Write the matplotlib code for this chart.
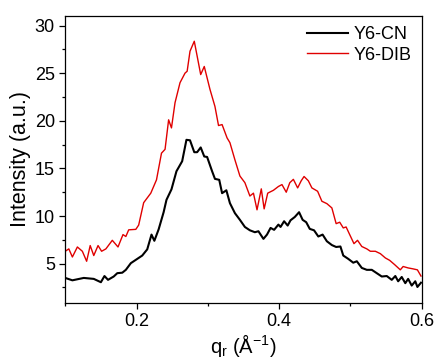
import matplotlib
matplotlib.use("Agg")
import matplotlib.pyplot as plt
from matplotlib.ticker import MultipleLocator

plt.rcParams["font.family"] = ["Liberation Sans", "DejaVu Sans"]
plt.rcParams["mathtext.fontset"] = "custom"
plt.rcParams["mathtext.rm"] = "Liberation Sans"

# in-plane line cuts, q_r in 1/Angstrom
q_cn = [0.100, 0.110, 0.126, 0.140, 0.150, 0.155, 0.160, 0.168, 0.173, 0.180,
        0.185, 0.192, 0.199, 0.208, 0.215, 0.221, 0.225, 0.231, 0.238, 0.242,
        0.249, 0.256, 0.264, 0.270, 0.275, 0.281, 0.285, 0.290, 0.295, 0.299,
        0.306, 0.310, 0.316, 0.320, 0.326, 0.331, 0.338, 0.345, 0.352, 0.359,
        0.366, 0.371, 0.378, 0.383, 0.388, 0.393, 0.399, 0.402, 0.407, 0.412,
        0.416, 0.422, 0.428, 0.433, 0.438, 0.443, 0.449, 0.455, 0.461, 0.467,
        0.474, 0.480, 0.486, 0.490, 0.497, 0.504, 0.509, 0.516, 0.523, 0.530,
        0.537, 0.544, 0.551, 0.558, 0.563, 0.567, 0.572, 0.577, 0.581, 0.586,
        0.591, 0.594, 0.599]
i_cn = [3.50, 3.25, 3.50, 3.40, 3.05, 3.70, 3.30, 3.65, 4.00, 4.05,
        4.35, 5.05, 5.40, 5.85, 6.50, 8.05, 7.40, 8.60, 10.40, 11.70,
        12.80, 14.70, 15.75, 18.00, 17.95, 16.70, 16.70, 17.20, 16.25, 16.20,
        14.70, 13.90, 13.80, 12.40, 12.70, 11.35, 10.30, 9.60, 8.85, 8.50,
        8.30, 8.40, 7.60, 8.05, 8.75, 8.55, 9.10, 8.85, 9.45, 9.00,
        9.55, 9.90, 10.40, 9.60, 9.35, 8.65, 8.50, 7.85, 8.05, 7.35,
        6.95, 6.75, 6.80, 5.85, 5.50, 5.10, 5.25, 4.55, 4.35, 4.35,
        4.00, 3.65, 3.70, 3.30, 3.70, 3.15, 3.60, 2.95, 3.40, 2.70,
        3.15, 2.55, 3.00]

q_dib = [0.100, 0.105, 0.110, 0.117, 0.124, 0.130, 0.135, 0.140, 0.146, 0.151,
         0.157, 0.166, 0.174, 0.181, 0.185, 0.189, 0.199, 0.203, 0.210, 0.220,
         0.228, 0.235, 0.240, 0.245, 0.249, 0.254, 0.261, 0.268, 0.271, 0.275,
         0.281, 0.285, 0.290, 0.295, 0.303, 0.310, 0.315, 0.320, 0.327, 0.331,
         0.338, 0.345, 0.352, 0.359, 0.364, 0.369, 0.375, 0.379, 0.384, 0.392,
         0.399, 0.404, 0.410, 0.415, 0.420, 0.426, 0.431, 0.435, 0.441, 0.446,
         0.454, 0.460, 0.467, 0.474, 0.480, 0.485, 0.490, 0.494, 0.499, 0.505,
         0.510, 0.516, 0.523, 0.528, 0.535, 0.542, 0.549, 0.555, 0.562, 0.570,
         0.574, 0.581, 0.588, 0.594, 0.599]
i_dib = [6.30, 6.55, 5.70, 6.75, 6.30, 5.25, 6.90, 5.85, 6.90, 6.30,
         6.55, 7.45, 6.75, 8.05, 7.85, 8.55, 8.60, 9.05, 11.40, 12.40,
         13.80, 16.60, 17.00, 20.10, 19.25, 21.90, 24.00, 25.00, 25.20, 27.30,
         28.35, 26.80, 24.85, 25.70, 23.30, 21.50, 19.50, 19.60, 18.20, 17.70,
         15.90, 14.20, 13.50, 12.10, 12.40, 10.65, 12.85, 10.75, 12.40, 12.70,
         13.10, 13.30, 12.50, 13.50, 13.85, 12.95, 13.70, 14.15, 13.70, 12.95,
         12.60, 11.55, 11.30, 10.85, 9.20, 9.35, 8.75, 8.85, 8.05, 7.10,
         7.45, 6.80, 6.55, 6.30, 6.30, 6.05, 5.60, 5.35, 4.90, 4.35,
         4.70, 4.55, 4.45, 4.35, 3.70]

fig = plt.figure(figsize=(4.35, 3.61), dpi=100)
ax = fig.add_axes([0.150, 0.1615, 0.8194, 0.7942])

ax.plot(q_cn, i_cn, color="black", lw=1.5, label="Y6-CN")
ax.plot(q_dib, i_dib, color="#e00000", lw=1.0, label="Y6-DIB")

ax.set_xlim(0.1, 0.6)
ax.set_ylim(0.9, 31)
ax.xaxis.set_major_locator(MultipleLocator(0.2))
ax.xaxis.set_minor_locator(MultipleLocator(0.1))
ax.yaxis.set_major_locator(MultipleLocator(5))
ax.yaxis.set_minor_locator(MultipleLocator(2.5))
ax.set_yticks([5, 10, 15, 20, 25, 30])

ax.tick_params(which="both", direction="out", top=False, right=False,
               labelsize=13, width=0.9)
ax.tick_params(which="major", length=4)
ax.tick_params(which="minor", length=2.5)
for s in ax.spines.values():
    s.set_linewidth(0.9)

ax.set_xlabel(r"q$_\mathregular{r}$ (Å$^\mathregular{-1}$)", fontsize=14.5, labelpad=1)
ax.set_ylabel("Intensity (a.u.)", fontsize=15.5, labelpad=3)

ax.legend(loc="upper right", frameon=False, fontsize=13, handlelength=2.3,
          handletextpad=0.3, labelspacing=0.2, borderaxespad=0.15)

fig.savefig("out.png", dpi=100)
